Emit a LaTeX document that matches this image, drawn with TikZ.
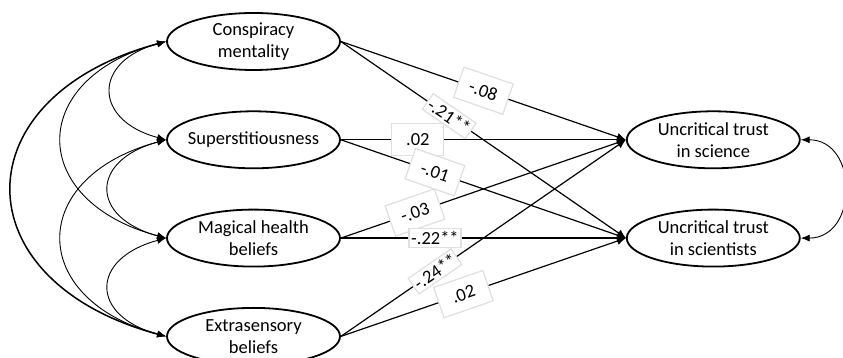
\documentclass[tikz,border=0pt]{standalone}
\usepackage{fontspec}
\setmainfont{Carlito}
\usepackage{tikz}
\usetikzlibrary{shapes.geometric, arrows.meta, positioning}

\begin{document}
\begin{tikzpicture}[
    x=1pt, y=1pt,
    node distance=39.5pt,
    latent/.style={ellipse, draw, line width=1.8pt, minimum width=173pt, minimum height=57pt,
                   inner sep=0pt, align=center, font=\fontsize{18.5}{22}\selectfont},
    arrow/.style={line width=1.2pt, ->, >={Latex[length=9pt,width=8pt]}},
    cov/.style={line width=0.9pt, <->, >={Latex[length=9pt,width=7pt]}},
    coef/.style={draw=gray!25, fill=white, sloped, minimum width=52pt, minimum height=32pt,
                 inner sep=1pt, font=\fontsize{18.5}{20}\selectfont},
    coefstar/.style={coef, minimum height=19pt}
  ]
  \useasboundingbox (0,0) rectangle (843,358);
  \node (CM)  [latent] at (253.5,316.5) {Conspiracy\\mentality};
  \node (SU)  [latent, inner xsep=-12pt, below=of CM] {Superstitiousness};
  \node (MH)  [latent, below=of SU] {Magical health\\beliefs};
  \node (EB)  [latent, below=of MH] {Extrasensory\\beliefs};
  \node (TSc) [latent, right=285pt of SU] {Uncritical trust\\in science};
  \node (TSt) [latent, right=285pt of MH] {Uncritical trust\\in scientists};

  % covariances
  \draw [cov] (CM.west) to[out=195, in=165, distance=76pt]  (SU.west);
  \draw [cov] (CM.west) to[out=195, in=165, distance=144pt] (MH.west);
  \draw [cov, line width=1.5pt] (CM.west) to[out=195, in=165, distance=213pt] (EB.west);
  \draw [cov] (SU.west) to[out=195, in=165, distance=79pt]  (MH.west);
  \draw [cov] (SU.west) to[out=195, in=165, distance=144pt] (EB.west);
  \draw [cov] (MH.west) to[out=195, in=165, distance=79pt]  (EB.west);
  \draw [cov] (TSc.east) to[out=0, in=0, distance=58pt] (TSt.east);

  % paths
  \draw [arrow] (CM.east) -- node[coef, pos=0.5]      {-.08}   (TSc.west);
  \draw [arrow] (CM.east) -- node[coefstar, pos=0.38] {-.21**} (TSt.west);
  \draw [arrow] (SU.east) -- node[coef, pos=0.27]     {.02}    (TSc.west);
  \draw [arrow] (SU.east) -- node[coef, pos=0.33]     {-.01}   (TSt.west);
  \draw [arrow] (MH.east) -- node[coef, pos=0.26]     {-.03}   (TSc.west);
  \draw [arrow] (MH.east) -- node[coefstar, pos=0.33] {-.22**} (TSt.west);
  \draw [arrow] (EB.east) -- node[coefstar, pos=0.33] {-.24**} (TSc.west);
  \draw [arrow] (EB.east) -- node[coef, pos=0.43]     {.02}    (TSt.west);
\end{tikzpicture}
\end{document}
